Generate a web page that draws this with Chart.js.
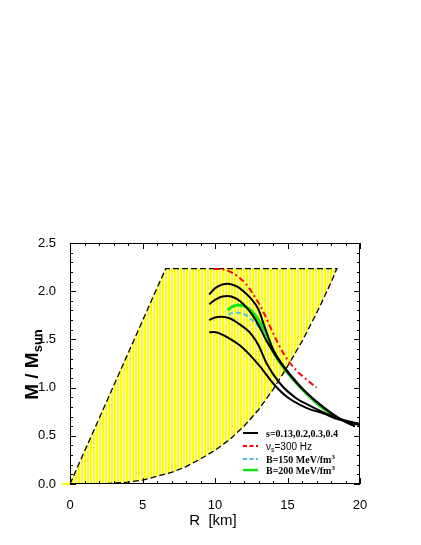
<!DOCTYPE html>
<html><head><meta charset="utf-8">
<script src="https://cdn.jsdelivr.net/npm/chart.js@4.4.0/dist/chart.umd.min.js"></script>
<style>html,body{margin:0;padding:0;background:#fff}</style>
</head><body>
<canvas id="c" width="421" height="545" style="display:block;width:421px;height:545px"></canvas>
<script>
// ---- data ----
const xTicks = [0, 5, 10, 15, 20];
const yTicks = [0.0, 0.5, 1.0, 1.5, 2.0, 2.5];

// allowed (hatched) region: upper boundary and lower curve
const regionTopR = [0, 6.6, 18.4];
const regionTopM = [0, 2.235, 2.235];
const regionLowR = [18.4, 18, 17, 16, 15, 14, 13, 12, 11, 10, 9, 8, 7, 6, 5, 4, 3, 2, 1, 0];
const regionLowM = [2.235, 2.09, 1.77, 1.48, 1.22, 0.98, 0.77, 0.60, 0.46, 0.35, 0.26, 0.18, 0.12, 0.08, 0.04, 0.02, 0.01, 0.0, 0.0, 0.0];

// s = 0.13, 0.2, 0.3, 0.4 (black)
const s1R = [9.6, 10.0, 10.5, 10.9, 11.5, 12.0, 12.5, 13.0, 13.4, 14.0, 14.5, 15.0, 15.9, 17.0, 18.05, 18.8, 19.65];
const s1M = [1.965, 2.03, 2.07, 2.078, 2.05, 1.995, 1.92, 1.81, 1.64, 1.40, 1.27, 1.17, 1.01, 0.855, 0.733, 0.66, 0.598];
const s2R = [9.6, 10.0, 10.5, 10.9, 11.5, 12.0, 12.5, 13.0, 13.5, 14.0, 14.5, 15.0, 15.9, 17.0, 18.05, 18.8, 19.65];
const s2M = [1.864, 1.91, 1.945, 1.95, 1.92, 1.86, 1.77, 1.65, 1.50, 1.375, 1.26, 1.16, 1.005, 0.85, 0.73, 0.66, 0.598];
const s3R = [9.6, 10.0, 10.4, 11.0, 11.6, 12.2, 12.55, 13.0, 13.56, 14.5, 15.6, 16.5, 17.3, 18.5, 20.0];
const s3M = [1.70, 1.728, 1.736, 1.72, 1.667, 1.60, 1.545, 1.44, 1.25, 1.04, 0.89, 0.815, 0.755, 0.68, 0.625];
const s4R = [9.6, 9.9, 10.5, 11.15, 11.7, 12.4, 13.1, 14.0, 14.95, 16.3, 17.5, 18.5, 20.0];
const s4M = [1.573, 1.577, 1.55, 1.495, 1.44, 1.34, 1.22, 1.045, 0.905, 0.79, 0.73, 0.67, 0.61];

// nu_s = 300 Hz (red dash-dot)
const nuR = [9.9, 10.3, 10.7, 11.2, 11.6, 12.1, 12.5, 13.0, 13.45, 13.9, 14.15, 14.7, 15.2, 15.6, 16.1, 16.5, 17.0];
const nuM = [2.23, 2.23, 2.22, 2.19, 2.15, 2.08, 2.0, 1.88, 1.75, 1.60, 1.52, 1.36, 1.25, 1.18, 1.11, 1.06, 1.0];

// B = 150 MeV/fm^3 (cyan dashed)
const b150R = [10.92, 11.15, 11.4, 11.8, 12.3, 12.7, 13.1, 13.45];
const b150M = [1.753, 1.772, 1.78, 1.772, 1.736, 1.68, 1.615, 1.56];

// B = 200 MeV/fm^3 (green)
const b200R = [10.87, 11.2, 11.6, 12.2, 12.76, 13.2, 13.56, 14.0, 15.0, 16.0, 17.0, 18.0];
const b200M = [1.805, 1.84, 1.857, 1.83, 1.753, 1.65, 1.54, 1.38, 1.155, 0.985, 0.84, 0.727];

const legendLabels = ['s=0.13,0.2,0.3,0.4', 'ν', 's', '=300 Hz', 'B=150 MeV/fm', 'B=200 MeV/fm', '3'];
const xTitle = 'R  [km]';
const yTitleMain = 'M / M';
const yTitleSub = 'sun';

// ---- helpers ----
const pts = (xs, ys) => xs.map((x, i) => ({x: x, y: ys[i]}));

const pc = document.createElement('canvas');
pc.width = 3; pc.height = 1;
const pctx = pc.getContext('2d');
pctx.fillStyle = '#ffff00'; pctx.fillRect(0, 0, 3, 1);
pctx.fillStyle = '#ffffff'; pctx.fillRect(2, 0, 1, 1);
const canvas = document.getElementById('c');
const stripe = canvas.getContext('2d').createPattern(pc, 'repeat');

const regionPts = pts(regionTopR, regionTopM).concat(pts(regionLowR, regionLowM));

const black = (xs, ys) => ({data: pts(xs, ys), borderColor: '#000', borderWidth: 2, pointRadius: 0, fill: false, cubicInterpolationMode: 'monotone', order: 1});

const datasets = [
  black(s1R, s1M), black(s2R, s2M), black(s3R, s3M), black(s4R, s4M),
  {data: pts(nuR, nuM), borderColor: '#ff0000', borderWidth: 2, borderDash: [6, 3, 2, 3], pointRadius: 0, fill: false, cubicInterpolationMode: 'monotone', order: 2},
  {data: pts(b150R, b150M), borderColor: '#4cc8d8', borderWidth: 2, borderDash: [5, 3], pointRadius: 0, fill: false, cubicInterpolationMode: 'monotone', order: 3},
  {data: pts(b200R, b200M), borderColor: '#11e611', borderWidth: 3, pointRadius: 0, fill: false, cubicInterpolationMode: 'monotone', order: 4},
  {data: regionPts, borderColor: '#000', borderWidth: 1.3, borderDash: [6, 3], backgroundColor: stripe, pointRadius: 0, fill: 'shape', tension: 0, order: 10},
  {data: [{x: -0.55, y: 0}, {x: 0, y: 0}], borderColor: '#ffff00', borderWidth: 2, pointRadius: 0, fill: false, clip: false, order: 11}
];

function drawRuns(ctx, x, y, runs) {
  let cx = x;
  runs.forEach(r => {
    ctx.font = r.font;
    ctx.fillText(r.t, cx, y + (r.dy || 0));
    cx += ctx.measureText(r.t).width;
  });
  return cx;
}
function runsWidth(ctx, runs) {
  let w = 0;
  runs.forEach(r => { ctx.font = r.font; w += ctx.measureText(r.t).width; });
  return w;
}

const decor = {
  id: 'decor',
  afterDraw(chart) {
    const ctx = chart.ctx, a = chart.chartArea;
    const xs = chart.scales.x, ys = chart.scales.y;
    ctx.save();
    // frame
    ctx.strokeStyle = '#000'; ctx.lineWidth = 1; ctx.setLineDash([]);
    ctx.strokeRect(a.left + 0.5, a.top + 0.5, a.right - a.left - 1, a.bottom - a.top - 1);
    // ticks
    ctx.beginPath();
    for (let v = 0; v <= 20 + 1e-9; v += 1) {
      const px = Math.round(xs.getPixelForValue(v)) + 0.5;
      const L = (Math.abs(v % 5) < 1e-6) ? 6 : 3;
      ctx.moveTo(px, a.bottom); ctx.lineTo(px, a.bottom - L);
      ctx.moveTo(px, a.top); ctx.lineTo(px, a.top + L);
    }
    for (let k = 0; k <= 25; k++) {
      const v = k / 10;
      const py = Math.round(ys.getPixelForValue(v)) + 0.5;
      const L = (k % 5 === 0) ? 6 : 3;
      ctx.moveTo(a.left, py); ctx.lineTo(a.left + L, py);
      ctx.moveTo(a.right, py); ctx.lineTo(a.right - L, py);
    }
    ctx.stroke();

    // axis titles
    ctx.fillStyle = '#000';
    ctx.textBaseline = 'alphabetic';
    ctx.textAlign = 'left';
    ctx.font = '15px "Liberation Sans", Arial, sans-serif';
    const tw = ctx.measureText(xTitle).width;
    ctx.fillText(xTitle, (a.left + a.right) / 2 - tw / 2 - 2, 525);

    const yRuns = [
      {t: yTitleMain, font: 'bold 19px "Liberation Sans", Arial, sans-serif'},
      {t: yTitleSub, font: 'bold 13px "Liberation Sans", Arial, sans-serif', dy: 4}
    ];
    ctx.save();
    ctx.translate(37.5, (a.top + a.bottom) / 2 + 1);
    ctx.rotate(-Math.PI / 2);
    const yw = runsWidth(ctx, yRuns);
    drawRuns(ctx, -yw / 2, 0, yRuns);
    ctx.restore();

    // legend
    const lx0 = 243, lx1 = 258, tx = 266;
    const rows = [433, 446, 459, 470];
    const serifB = 'bold 10px "Liberation Serif", "Times New Roman", serif';
    const serifBs = 'bold 7px "Liberation Serif", "Times New Roman", serif';
    const sans = '10px "Liberation Sans", Arial, sans-serif';
    const sansS = '7px "Liberation Sans", Arial, sans-serif';
    const samples = [
      {c: '#000', w: 2, d: []},
      {c: '#ff0000', w: 2, d: [4, 2.5]},
      {c: '#4cc8d8', w: 2, d: [4, 2.5]},
      {c: '#11e611', w: 2.5, d: []}
    ];
    samples.forEach((s, i) => {
      ctx.beginPath();
      ctx.strokeStyle = s.c; ctx.lineWidth = s.w; ctx.setLineDash(s.d);
      ctx.moveTo(lx0, rows[i]); ctx.lineTo(lx1, rows[i]); ctx.stroke();
    });
    ctx.setLineDash([]);
    ctx.fillStyle = '#000';
    drawRuns(ctx, tx, rows[0] + 3.5, [{t: legendLabels[0], font: serifB}]);
    drawRuns(ctx, tx, rows[1] + 3.5, [{t: legendLabels[1], font: sans}, {t: legendLabels[2], font: sansS, dy: 2}, {t: legendLabels[3], font: sans}]);
    drawRuns(ctx, tx, rows[2] + 3.5, [{t: legendLabels[4], font: serifB}, {t: legendLabels[6], font: serifBs, dy: -4}]);
    drawRuns(ctx, tx, rows[3] + 3.5, [{t: legendLabels[5], font: serifB}, {t: legendLabels[6], font: serifBs, dy: -4}]);
    ctx.restore();
  }
};

new Chart(canvas, {
  type: 'line',
  data: {datasets: datasets},
  options: {
    responsive: false,
    devicePixelRatio: 1,
    animation: false,
    layout: {padding: {top: 243, right: 61, left: 0, bottom: 0}},
    plugins: {legend: {display: false}, tooltip: {enabled: false}},
    scales: {
      x: {
        type: 'linear', min: 0, max: 20,
        afterFit: s => { s.height = 61; },
        afterBuildTicks: s => { s.ticks = xTicks.map(v => ({value: v})); },
        ticks: {padding: 6, color: '#000', font: {family: '"Liberation Sans", Arial, sans-serif', size: 13}, maxRotation: 0, callback: v => String(v)},
        grid: {display: false}, border: {display: false}
      },
      y: {
        type: 'linear', min: 0, max: 2.5,
        afterFit: s => { s.width = 70; },
        afterBuildTicks: s => { s.ticks = yTicks.map(v => ({value: v})); },
        ticks: {padding: 6, color: '#000', font: {family: '"Liberation Sans", Arial, sans-serif', size: 13}, callback: v => Number(v).toFixed(1)},
        grid: {display: false}, border: {display: false}
      }
    }
  },
  plugins: [decor]
});
</script>
</body></html>
